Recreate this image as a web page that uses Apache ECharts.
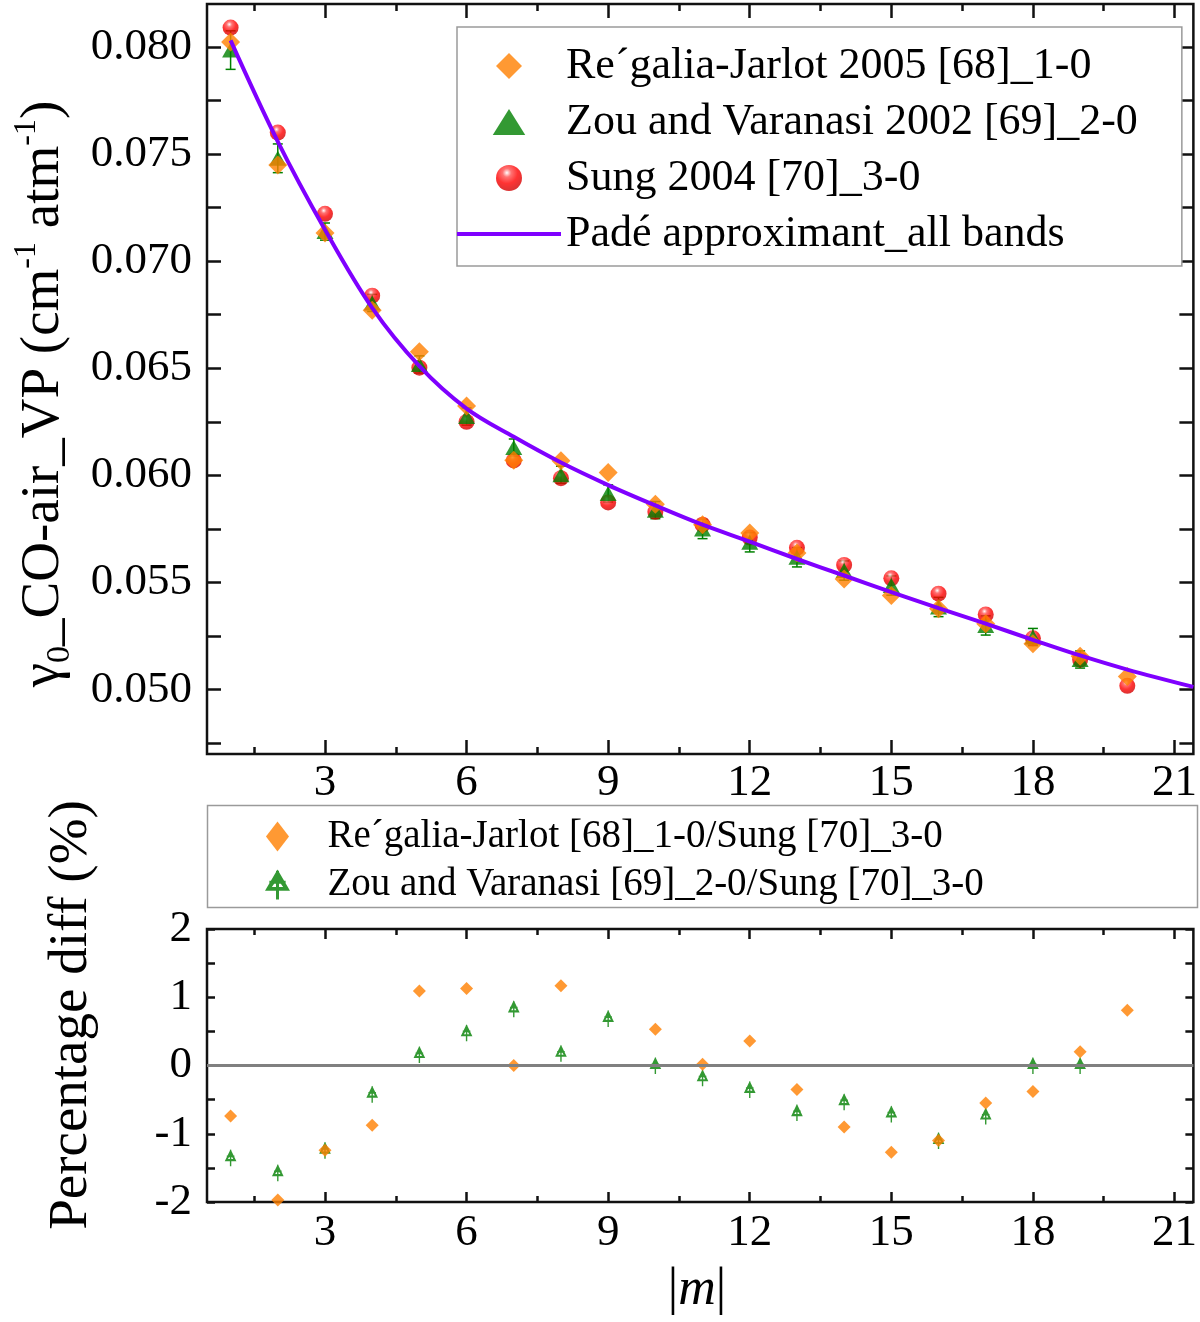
<!DOCTYPE html>
<html><head><meta charset="utf-8">
<script src="https://cdn.jsdelivr.net/npm/echarts@6/dist/echarts.min.js"></script>
<style>html,body{margin:0;padding:0;background:#fff}#c{width:1200px;height:1322px}</style>
</head><body><div id="c"></div><script>
// ---------- data ----------
const mAll = [1,2,3,4,5,6,7,8,9,10,11,12,13,14,15,16,17,18,19,20];
const mZou = [1,2,3,4,5,6,7,8,9,10,11,12,13,14,15,16,17,18,19];
const regalia = [0.08023,0.07449,0.07131,0.06771,0.06577,0.06324,0.06071,0.06068,0.06014,0.05866,0.0577,0.05731,0.05638,0.05517,0.0544,0.05378,0.05308,0.05215,0.05156,0.05062];
const zou = [0.07985,0.0748,0.07138,0.06805,0.06518,0.06275,0.0613,0.06003,0.05916,0.05838,0.0575,0.05688,0.05618,0.05556,0.05486,0.05386,0.053,0.05246,0.05141];
const zouErr = [0.0009,0.00067,0.0004,0.0004,0.0004,0.0004,0.0004,0.0004,0.0004,0.0004,0.00045,0.00045,0.00045,0.00045,0.00045,0.00045,0.00045,0.0004,0.0004];
const sung = [0.0809,0.0760,0.07221,0.06839,0.06503,0.0625,0.0607,0.05987,0.05874,0.0583,0.0577,0.0571,0.05662,0.05582,0.0552,0.05448,0.05351,0.0524,0.0514,0.05018];
const padeM = [1,2,3,4,5,6,7,8,9,10,11,12,13,14,15,16,17,18,19,20,21.4];
const padeV = [0.0803,0.07558,0.07147,0.06782,0.0651,0.06312,0.0618,0.0606,0.05955,0.0586,0.0577,0.05691,0.0561,0.05533,0.05455,0.05381,0.05308,0.05233,0.0516,0.05094,0.05013];
const diffReg = [-0.74,-1.97,-1.24,-0.875,1.09,1.13,0.0,1.17,null,0.53,0.02,0.36,-0.35,-0.9,-1.27,-1.1,-0.55,-0.38,0.2,0.81];
const diffZou = [-1.35,-1.57,-1.24,-0.42,0.16,0.48,0.83,0.18,0.69,0.0,-0.18,-0.35,-0.69,-0.53,-0.71,-1.1,-0.74,0.0,0.0];
const xMajor = [3,6,9,12,15,18,21];
const xMinor = [1.5,4.5,7.5,10.5,13.5,16.5,19.5];
const yTopMajor = [0.050,0.055,0.060,0.065,0.070,0.075,0.080];
const yTopMinor = [0.0475,0.0525,0.0575,0.0625,0.0675,0.0725,0.0775];
const yBotMajor = [-2,-1,0,1,2];
const yBotMinor = [-1.5,-0.5,0.5,1.5];
const names = {
  reg: 'Re\u00B4galia-Jarlot 2005 [68]_1-0',
  zou: 'Zou and Varanasi 2002 [69]_2-0',
  sung: 'Sung 2004 [70]_3-0',
  pade: 'Padé approximant_all bands',
  dReg: 'Re\u00B4galia-Jarlot [68]_1-0/Sung [70]_3-0',
  dZou: 'Zou and Varanasi [69]_2-0/Sung [70]_3-0'
};
// ---------- style ----------
const FONT = '"Liberation Serif","Times New Roman",serif';
const ORANGE = '#ff8000', GREEN = '#008000', PURPLE = '#7f00ff', INK = '#111';
const crossTri = 'path://M10 0 L20 17 L0 17 Z M10 7.5 L5.5 14 L14.5 14 Z M8.8 1 L11.2 1 L11.2 24 L8.8 24 Z M3.5 9 L16.5 9 L16.5 11.4 L3.5 11.4 Z';
const lineIcon = 'path://M0 0 L100 0 L100 4 L0 4 Z';
const diamondIcon = 'path://M10 0 L20 10 L10 20 L0 10 Z';
const triIcon = 'path://M10 0 L20 16 L0 16 Z';
const circleIcon = 'path://M0 10 A10 10 0 1 1 20 10 A10 10 0 1 1 0 10 Z';
const tallDiamondIcon = 'path://M10 0 L20 13 L10 26 L0 13 Z';

function xAxesFor(grid, labelMargin, majLen, minLen) {
  const base = {gridIndex: grid, type: 'value', min: 0.5, max: 21.4,
    axisLine: {show: false, onZero: false}, splitLine: {show: false}};
  const tickStyle = {color: INK, width: 2.5};
  return [
    Object.assign({}, base, {position: 'bottom',
      axisTick: {inside: true, length: majLen, customValues: xMajor, lineStyle: tickStyle},
      axisLabel: {customValues: xMajor, fontFamily: FONT, fontSize: 45, color: '#000', margin: labelMargin}}),
    Object.assign({}, base, {position: 'bottom',
      axisTick: {inside: true, length: minLen, customValues: xMinor, lineStyle: tickStyle},
      axisLabel: {show: false}}),
    Object.assign({}, base, {position: 'top',
      axisTick: {inside: true, length: majLen, customValues: xMajor, lineStyle: tickStyle},
      axisLabel: {show: false}}),
    Object.assign({}, base, {position: 'top',
      axisTick: {inside: true, length: minLen, customValues: xMinor, lineStyle: tickStyle},
      axisLabel: {show: false}})
  ];
}
function yAxesFor(grid, min, max, labels, minor, len, fmt) {
  const base = {gridIndex: grid, type: 'value', min: min, max: max,
    axisLine: {show: false, onZero: false}, splitLine: {show: false}};
  const tickStyle = {color: INK, width: 2.5};
  const all = minor.concat(labels);
  return [
    Object.assign({}, base, {position: 'left',
      axisTick: {inside: true, length: len, customValues: all, lineStyle: tickStyle},
      axisLabel: {customValues: labels, formatter: fmt, fontFamily: FONT, fontSize: 45, color: '#000', margin: 15}}),
    Object.assign({}, base, {position: 'right',
      axisTick: {inside: true, length: len, customValues: all, lineStyle: tickStyle},
      axisLabel: {show: false}})
  ];
}

const chart = echarts.init(document.getElementById('c'), null, {renderer: 'canvas'});
const option = {
  animation: false,
  backgroundColor: '#fff',
  grid: [
    {left: 207, top: 4, width: 988, height: 750, show: true, borderColor: INK, borderWidth: 2.5, backgroundColor: 'transparent'},
    {left: 207, top: 929, width: 988, height: 273, show: true, borderColor: INK, borderWidth: 2.5, backgroundColor: 'transparent'}
  ],
  xAxis: xAxesFor(0, 7, 14, 7).concat(xAxesFor(1, 9, 10, 6)),
  yAxis: yAxesFor(0, 0.047, 0.082, yTopMajor, yTopMinor, 14, v => v.toFixed(3))
    .concat(yAxesFor(1, -2, 2, yBotMajor, yBotMinor, 8, v => String(v))),
  legend: [
    {data: [{name: names.reg, icon: diamondIcon}, {name: names.zou, icon: triIcon},
            {name: names.sung, icon: circleIcon}, {name: names.pade, icon: lineIcon}],
     orient: 'vertical', left: 457, top: 27, symbolKeepAspect: true,
     padding: [17, 44, 10, 0], itemWidth: 104, itemHeight: 26, itemGap: 12,
     borderColor: '#9a9a9a', borderWidth: 1.5, backgroundColor: '#fff',
     textStyle: {fontFamily: FONT, fontSize: 44, color: '#000'}, selectedMode: false},
    {data: [{name: names.dReg, icon: tallDiamondIcon}, {name: names.dZou, icon: crossTri}],
     orient: 'vertical', left: 265, top: 817, symbolKeepAspect: true,
     padding: 0, itemWidth: 90, itemHeight: 30, itemGap: 9,
     textStyle: {fontFamily: FONT, fontSize: 39, color: '#000'}, selectedMode: false}
  ],
  graphic: [
    {type: 'rect', left: 205, top: 803, shape: {width: 990, height: 102},
     style: {fill: 'none', stroke: '#9a9a9a', lineWidth: 1.5}, z: 0},
    {type: 'text', x: 44, y: 394, rotation: Math.PI / 2,
     style: {text: '{n|γ}{s|0}{n|_CO-air_VP (cm}{p|-1}{n| atm}{p|-1}{n|)}', align: 'center', verticalAlign: 'middle',
       fill: '#000',
       rich: {
         n: {fontFamily: FONT, fontSize: 55, lineHeight: 66, verticalAlign: 'middle', fill: '#000'},
         s: {fontFamily: FONT, fontSize: 34, lineHeight: 36, verticalAlign: 'bottom', fill: '#000'},
         p: {fontFamily: FONT, fontSize: 32, lineHeight: 30, verticalAlign: 'top', fill: '#000'}
       }}},
    {type: 'text', x: 72, y: 1015, rotation: Math.PI / 2,
     style: {text: 'Percentage diff (%)', align: 'center', verticalAlign: 'middle',
       fontFamily: FONT, fontSize: 55, fill: '#000'}},
    {type: 'text', x: 697, y: 1290,
     style: {text: '{b||}{i|m}{b||}', align: 'center', verticalAlign: 'middle', fill: '#000',
       rich: {
         b: {fontFamily: FONT, fontSize: 52, fill: '#000'},
         i: {fontFamily: FONT, fontSize: 52, fontStyle: 'italic', fill: '#000'}
       }}}
  ],
  series: [
    {name: names.sung, type: 'scatter', xAxisIndex: 0, yAxisIndex: 0, symbol: 'circle', symbolSize: 16,
     itemStyle: {color: {type: 'radial', x: 0.42, y: 0.3, r: 0.75,
       colorStops: [{offset: 0, color: '#ffffff'}, {offset: 0.22, color: '#ff5050'}, {offset: 0.55, color: '#ff0000'}, {offset: 1, color: '#c80000'}]}},
     data: mAll.map((m, i) => [m, sung[i]])},
    {name: names.zou, type: 'scatter', xAxisIndex: 0, yAxisIndex: 0, symbol: 'triangle', symbolSize: [17, 15],
     itemStyle: {color: GREEN}, data: mZou.map((m, i) => [m, zou[i]])},
    {name: names.reg, type: 'scatter', xAxisIndex: 0, yAxisIndex: 0, symbol: 'diamond', symbolSize: 19,
     itemStyle: {color: ORANGE}, data: mAll.map((m, i) => [m, regalia[i]])},
    {type: 'custom', xAxisIndex: 0, yAxisIndex: 0, silent: true,
     data: mZou.map((m, i) => [m, zou[i] - zouErr[i], zou[i] + zouErr[i]]),
     renderItem: function (params, api) {
       const lo = api.coord([api.value(0), api.value(1)]);
       const hi = api.coord([api.value(0), api.value(2)]);
       const w = 5, st = {stroke: GREEN, lineWidth: 1.5};
       return {type: 'group', children: [
         {type: 'line', shape: {x1: lo[0], y1: lo[1], x2: hi[0], y2: hi[1]}, style: st},
         {type: 'line', shape: {x1: lo[0] - w, y1: lo[1], x2: lo[0] + w, y2: lo[1]}, style: st},
         {type: 'line', shape: {x1: hi[0] - w, y1: hi[1], x2: hi[0] + w, y2: hi[1]}, style: st}
       ]};
     }},
    {name: names.pade, type: 'line', xAxisIndex: 0, yAxisIndex: 0, symbol: 'none', showSymbol: false, smooth: 0.35,
     lineStyle: {color: PURPLE, width: 4}, itemStyle: {color: PURPLE},
     data: padeM.map((m, i) => [m, padeV[i]])},
    {name: names.dZou, type: 'scatter', xAxisIndex: 4, yAxisIndex: 2, symbol: crossTri, symbolSize: [14, 17], symbolKeepAspect: true,
     itemStyle: {color: GREEN}, data: mZou.map((m, i) => [m, diffZou[i]])},
    {name: names.dReg, type: 'scatter', xAxisIndex: 4, yAxisIndex: 2, symbol: 'diamond', symbolSize: 13,
     itemStyle: {color: ORANGE}, data: mAll.map((m, i) => [m, diffReg[i]]),
     markLine: {silent: true, symbol: 'none', label: {show: false},
       lineStyle: {color: '#808080', width: 3, type: 'solid'}, data: [{yAxis: 0}]}}
  ]
};
chart.setOption(option);
</script></body></html>
